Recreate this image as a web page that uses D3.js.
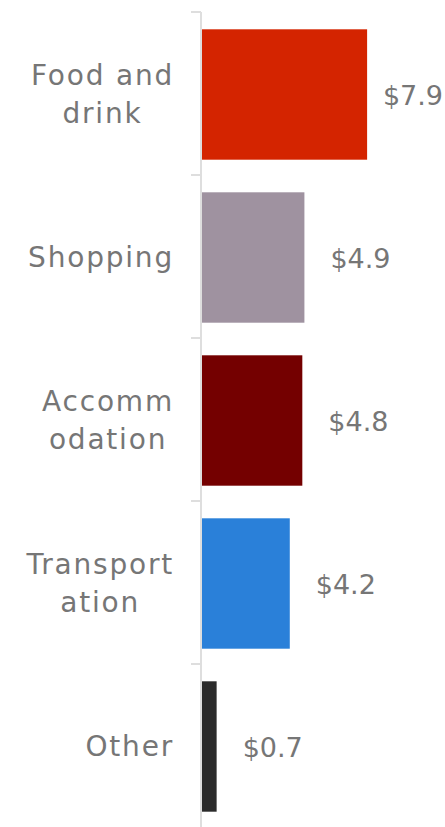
<!DOCTYPE html>
<html>
<head>
<meta charset="utf-8">
<script src="https://cdn.jsdelivr.net/npm/d3@7"></script>
<style>
  body { margin: 0; background: #fff; }
  text { font-family: "DejaVu Sans", sans-serif; fill: #767676; }
</style>
</head>
<body>
<svg id="chart" width="445" height="827"></svg>
<script>
// chart data
const categories = ["Food and drink", "Shopping", "Accommodation", "Transportation", "Other"];
const labelLines = [["Food and", "drink"], ["Shopping"], ["Accomm", "odation"], ["Transport", "ation"], ["Other"]];
const values = [7.9, 4.9, 4.8, 4.2, 0.7];
const valueLabels = ["$7.9", "$4.9", "$4.8", "$4.2", "$0.7"];
const colours = ["#d42400", "#9f92a0", "#740000", "#2a80d9", "#2b2b2b"];

const width = 445, height = 827;
const svg = d3.select("#chart");

let y = d3.scaleBand()
    .domain(categories)
    .range([12, height])
    .paddingInner(0.2)
    .paddingOuter(0.1);

let x = d3.scaleLinear()
    .domain([0, 10])
    .range([202, 411]);

// axis line + tick marks between categories
svg.append("line")
    .attr("x1", 201).attr("x2", 201)
    .attr("y1", 12).attr("y2", height)
    .attr("stroke", "#dedede")
    .attr("stroke-width", 2);

let gap = y.step() * y.paddingInner() / 2;
svg.selectAll(".tick")
    .data(categories)
    .enter()
    .append("line")
    .attr("class", "tick")
    .attr("x1", 191).attr("x2", 201)
    .attr("y1", d => y(d) - gap)
    .attr("y2", d => y(d) - gap)
    .attr("stroke", "#dedede")
    .attr("stroke-width", 2);

// bars
svg.selectAll(".bar")
    .data(categories)
    .enter()
    .append("rect")
    .attr("class", "bar")
    .attr("x", x(0))
    .attr("y", d => y(d) + 1)
    .attr("width", (d, i) => x(values[i]) - x(0))
    .attr("height", y.bandwidth())
    .attr("fill", (d, i) => colours[i]);

// value labels
svg.selectAll(".val")
    .data(categories)
    .enter()
    .append("text")
    .attr("class", "val")
    .attr("y", d => y(d) + y.bandwidth() / 2 + 2)
    .attr("dy", "0.35em")
    .style("font-size", "27px")
    .text((d, i) => valueLabels[i])
    .attr("x", function(d, i) {
        let w = this.getComputedTextLength();
        let px = x(values[i]) + 26;
        return Math.min(px, width - 2 - w);
    });

// category labels, block right-aligned, lines centred
categories.forEach(function(c, i) {
    let lines = labelLines[i];
    let g = svg.append("g");
    let cy = y(c) + y.bandwidth() / 2 + 1;
    let texts = lines.map(function(l, j) {
        return g.append("text")
            .attr("text-anchor", "middle")
            .attr("y", cy + (j - (lines.length - 1) / 2) * 38)
            .attr("dy", "0.35em")
            .style("font-size", "28px")
            .style("letter-spacing", "1.8px")
            .text(l);
    });
    let maxW = d3.max(texts, t => t.node().getComputedTextLength());
    // letter-spacing leaves a trailing gap, so nudge right a bit
    texts.forEach(t => t.attr("x", 173 - maxW / 2 + 1));
});
</script>
</body>
</html>
